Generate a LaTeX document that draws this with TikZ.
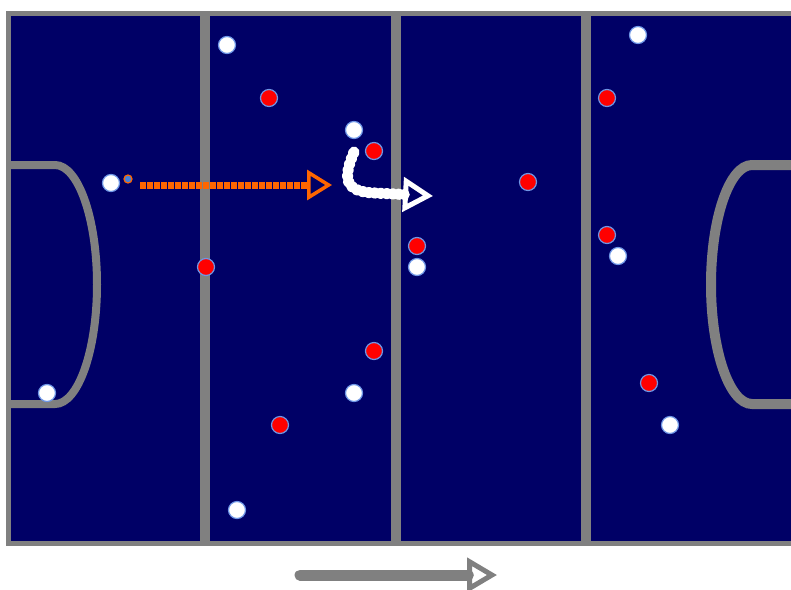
\documentclass[tikz,border=0pt]{standalone}
\usepackage{tikz}
\usetikzlibrary{arrows.meta}

\definecolor{pitchblue}{RGB}{0,0,102}
\definecolor{linegray}{RGB}{128,128,128}
\definecolor{runorange}{RGB}{255,102,0}
\definecolor{rimblue}{RGB}{110,150,230}
\definecolor{ballblue}{RGB}{70,130,220}

\begin{document}
\begin{tikzpicture}[
    x=1pt, y=-1pt,
    white/.style={circle, fill=white, draw=rimblue, line width=1.2pt, minimum size=17pt, inner sep=0pt},
    red/.style={circle, fill=red, draw=rimblue, line width=1.2pt, minimum size=17pt, inner sep=0pt},
    ball/.style={circle, fill=ballblue, draw=runorange, line width=1.2pt, minimum size=8pt, inner sep=0pt},
    pitchline/.style={draw=linegray, line width=10pt},
    run/.style={draw=runorange, line width=7pt, dash pattern=on 6pt off 1pt,
        -{Triangle[open, length=25pt, width=30pt, line width=3.5pt]}},
    dribble/.style={draw=white, line width=11pt, line cap=round, dash pattern=on 2pt off 4pt,
        -{Triangle[open, length=30pt, width=34pt, line width=5pt]}},
    attack/.style={draw=linegray, line width=11pt, line cap=round,
        -{Triangle[open, length=30pt, width=34pt, line width=5pt]}}
]
    \useasboundingbox (0,0) rectangle (791,589);

    % pitch
    \fill[linegray] (6,11) rectangle (791,546);
    \fill[pitchblue] (11,16) rectangle (791,541);
    \foreach \xline in {205,396,586}
        \draw[pitchline] (\xline,11) -- (\xline,546);

    % circles
    \draw[linegray, line width=8pt] (11,165) -- (55,165)
        arc[start angle=-90, end angle=90, x radius=42, y radius=119.5] -- (11,404);
    \draw[linegray, line width=10pt] (791,165) -- (752,165)
        arc[start angle=-90, end angle=-270, x radius=41, y radius=119.5] -- (791,404);

    % players
    \node[white] (white01) at (227,45) {};
    \node[white] (white02) at (354,130) {};
    \node[white] (white03) at (111,183) {};
    \node[white] (white04) at (417,267) {};
    \node[white] (white05) at (618,256) {};
    \node[white] (white06) at (354,393) {};
    \node[white] (white07) at (47,393) {};
    \node[white] (white08) at (237,510) {};
    \node[white] (white09) at (638,35) {};
    \node[white] (white10) at (670,425) {};

    \node[red] (red01) at (269,98) {};
    \node[red] (red02) at (374,151) {};
    \node[red] (red03) at (528,182) {};
    \node[red] (red04) at (417,246) {};
    \node[red] (red05) at (607,98) {};
    \node[red] (red06) at (607,235) {};
    \node[red] (red07) at (206,267) {};
    \node[red] (red08) at (374,351) {};
    \node[red] (red09) at (280,425) {};
    \node[red] (red10) at (649,383) {};

    \node[ball] (ball01) at (128,179) {};

    % movements
    \coordinate (pass01) at (140,185);
    \coordinate (pass02) at (332,185);
    \coordinate (drib01) at (354,152);
    \coordinate (drib02) at (433,196);
    \coordinate (play01) at (300,575);
    \coordinate (play02) at (497,575);

    \draw[run] (pass01) -- (pass02);
    \draw[dribble] (drib01) .. controls (344,176) and (342,192) .. (375,193) -- (drib02);
    \draw[attack] (play01) -- (play02);
\end{tikzpicture}
\end{document}
